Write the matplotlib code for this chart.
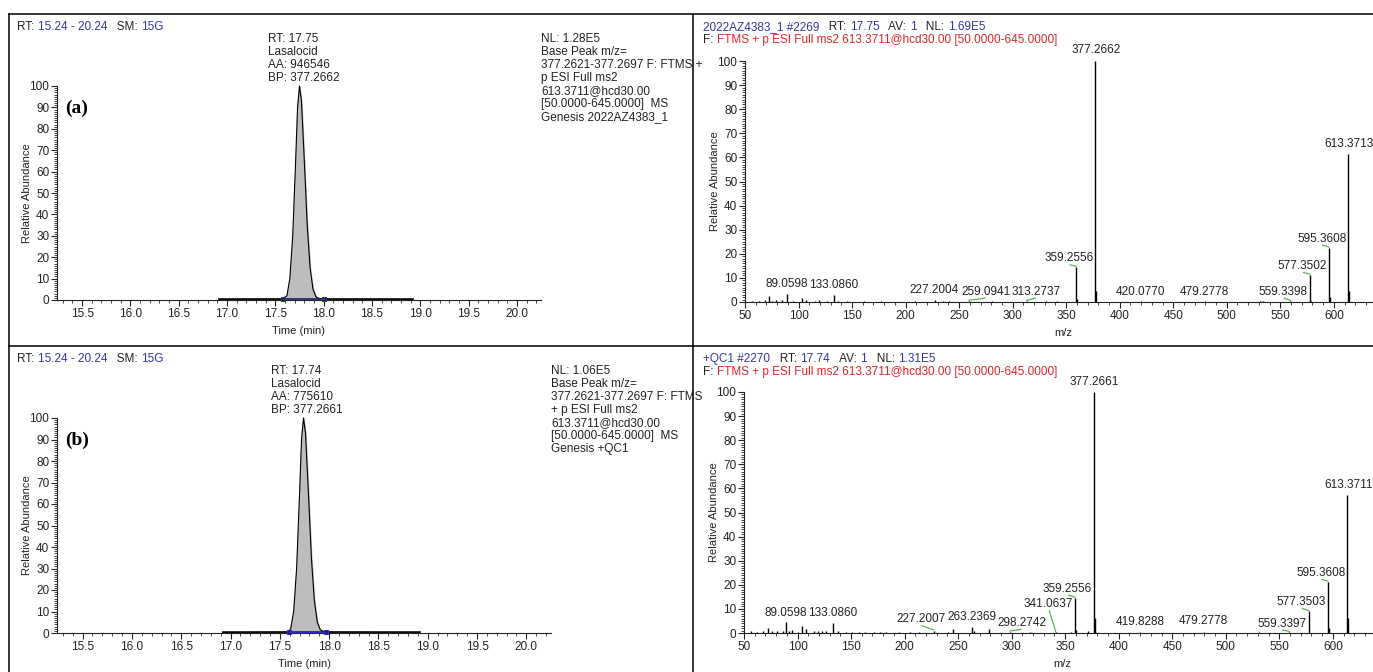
import matplotlib
matplotlib.use("Agg")
import matplotlib.pyplot as plt
from matplotlib.lines import Line2D
from matplotlib.font_manager import FontProperties
from matplotlib.ticker import MultipleLocator

FONT = ["Liberation Sans Narrow", "Liberation Sans", "DejaVu Sans"]
plt.rcParams["font.family"] = FONT

BLUE = "#35359e"
RED = "#e02626"
GREEN = "#58b45a"
INK = "#222222"

# ---- chromatograms (time in min, relative abundance) ----
chrom_a_t = [16.92, 17.57, 17.62, 17.65, 17.68, 17.71, 17.73, 17.75, 17.77, 17.80, 17.83, 17.86, 17.89, 17.92, 17.96, 18.00, 18.92]
chrom_a_i = [0.3, 0.4, 2, 10, 30, 65, 90, 100, 93, 65, 35, 15, 5, 1.5, 0.6, 0.4, 0.3]
chrom_b_t = [16.92, 17.58, 17.61, 17.64, 17.67, 17.70, 17.72, 17.74, 17.76, 17.79, 17.82, 17.85, 17.88, 17.91, 17.95, 17.99, 18.92]
chrom_b_i = [0.3, 0.4, 2, 10, 30, 65, 90, 100, 93, 65, 35, 15, 5, 1.5, 0.6, 0.4, 0.3]
integ_a = (17.58, 18.00)
integ_b = (17.59, 17.97)

# ---- MS2 spectra (m/z, relative abundance) ----
spec_a_mz = [57, 63, 69, 72.0, 75, 79, 85, 89.0598, 95, 103.0, 107, 115, 119, 127, 133.0860, 137, 145,
             161, 177, 209, 227.2004, 235, 241, 259.0941, 281, 313.2737, 331, 341, 359.2556, 360.26,
             377.2662, 378.27, 420.0770, 479.2778, 531, 534, 559.3398, 577.3502, 578.35, 595.3608,
             596.36, 613.3713, 614.37]
spec_a_h = [0.5, 0.5, 0.8, 2.3, 0.6, 1.0, 0.8, 3.2, 0.6, 1.6, 0.8, 0.6, 0.7, 0.6, 2.9, 0.6, 0.5,
            0.4, 0.4, 0.4, 1.0, 0.5, 0.6, 0.4, 0.3, 0.4, 0.3, 0.5, 14.5, 1.2,
            100, 4.4, 0.3, 0.3, 0.4, 0.4, 0.4, 11.3, 0.6, 22.5,
            2.0, 61.5, 4.4]

spec_b_mz = [57, 62, 68, 72, 76, 81, 86, 89.0598, 92, 95, 100, 104, 108, 115, 119, 123, 127, 133.0860,
             138, 145, 151, 157, 163, 171, 177, 183, 195, 205, 213, 227.2007, 241, 245, 263.2369, 265,
             279, 298.2742, 317, 341.0637, 355, 359.2556, 360.26, 371, 377.2661, 378.27, 419.8288,
             479.2778, 531, 559.3397, 577.3503, 595.3608, 596.36, 613.3711, 614.37]
spec_b_h = [0.8, 0.6, 1.0, 2.0, 0.7, 1.0, 0.9, 4.4, 1.0, 1.2, 0.6, 3.0, 1.5, 0.7, 1.0, 0.8, 1.0, 4.1,
            0.8, 0.6, 0.5, 0.6, 0.5, 0.4, 0.4, 0.4, 0.4, 0.4, 0.5, 1.0, 0.6, 1.5, 2.5, 0.8,
            1.8, 0.5, 0.4, 0.4, 0.5, 14.5, 1.3, 0.8, 100, 6.2, 0.3,
            0.4, 0.3, 0.4, 9.0, 21.2, 2.0, 57.4, 6.2]

# peak labels: (label, text x in m/z, text bottom in %)
labels_a = [("89.0598", 89.0, 4.8), ("133.0860", 133.0, 4.6), ("227.2004", 227.0, 2.5),
            ("259.0941", 275.0, 1.8), ("313.2737", 322.2, 1.8), ("359.2556", 352.7, 15.6),
            ("377.2662", 377.9, 102.0), ("420.0770", 419.8, 1.8), ("479.2778", 479.2, 1.8),
            ("559.3398", 552.8, 1.8), ("577.3502", 570.7, 12.4), ("595.3608", 588.6, 23.8),
            ("613.3713", 613.9, 63.0)]
labels_b = [("89.0598", 89.1, 5.8), ("133.0860", 133.0, 5.8), ("227.2007", 215.3, 3.2),
            ("263.2369", 262.5, 4.1), ("298.2742", 309.8, 1.7), ("341.0637", 334.2, 9.4),
            ("359.2556", 352.0, 15.9), ("377.2661", 377.4, 101.7), ("419.8288", 419.7, 2.0),
            ("479.2778", 479.2, 2.5), ("559.3397", 552.4, 1.4), ("577.3503", 570.4, 10.4),
            ("595.3608", 588.7, 22.4), ("613.3711", 614.3, 59.0)]

chrom_headers = [[("RT: ", INK), ("15.24 - 20.24", BLUE), ("   SM: ", INK), ("15G", BLUE)]] * 2
spec_headers = [
    [[("2022AZ4383_1 #2269", BLUE), ("   RT: ", INK), ("17.75", BLUE), ("   AV: ", INK), ("1", BLUE),
      ("   NL: ", INK), ("1.69E5", BLUE)],
     [("F: ", INK), ("FTMS + p ESI Full ms2 613.3711@hcd30.00 [50.0000-645.0000]", RED)]],
    [[("+QC1 #2270", BLUE), ("   RT: ", INK), ("17.74", BLUE), ("   AV: ", INK), ("1", BLUE),
      ("   NL: ", INK), ("1.31E5", BLUE)],
     [("F: ", INK), ("FTMS + p ESI Full ms2 613.3711@hcd30.00 [50.0000-645.0000]", RED)]],
]
peak_notes = ["RT: 17.75\nLasalocid\nAA: 946546\nBP: 377.2662",
              "RT: 17.74\nLasalocid\nAA: 775610\nBP: 377.2661"]
side_notes = ["NL: 1.28E5\nBase Peak m/z=\n377.2621-377.2697 F: FTMS +\np ESI Full ms2\n"
              "613.3711@hcd30.00\n[50.0000-645.0000]  MS\nGenesis 2022AZ4383_1",
              "NL: 1.06E5\nBase Peak m/z=\n377.2621-377.2697 F: FTMS\n+ p ESI Full ms2\n"
              "613.3711@hcd30.00\n[50.0000-645.0000]  MS\nGenesis +QC1"]
tags = ["(a)", "(b)"]

W, H = 1373, 672
fig = plt.figure(figsize=(W / 100, H / 100), dpi=100)


def fx(px):
    return px / W


def fy(py):
    return 1 - py / H


def add_ax(left, right, top, bottom):
    return fig.add_axes([fx(left), fy(bottom), (right - left) / W, (bottom - top) / H])


renderer = fig.canvas.get_renderer()
fp = FontProperties(family=FONT, size=8.5)


def text_w(s):
    # width incl. trailing spaces, in figure fraction
    w1 = renderer.get_text_width_height_descent(s + "|", fp, ismath=False)[0]
    w0 = renderer.get_text_width_height_descent("|", fp, ismath=False)[0]
    return (w1 - w0) / fig.bbox.width


def colored_line(xpx, ypx, parts):
    x = fx(xpx)
    for s, c in parts:
        fig.text(x, fy(ypx), s, color=c, fontproperties=fp, va="center", ha="left")
        x += text_w(s)


def style_axes(ax, w_px, h_px, xlabel):
    for side in ("top", "right"):
        ax.spines[side].set_visible(False)
    for side in ("left", "bottom"):
        ax.spines[side].set_color(INK)
        ax.spines[side].set_linewidth(0.8)
    ax.tick_params(which="major", direction="out", length=4, width=0.8, colors=INK, labelsize=8.5, pad=1.5)
    ax.tick_params(which="minor", direction="out", length=2, width=0.6, colors=INK)
    ax.yaxis.set_major_locator(MultipleLocator(10))
    ax.yaxis.set_minor_locator(MultipleLocator(1))
    ax.set_ylim(0, 100)
    ax.set_ylabel("Relative Abundance", fontsize=8, color=INK)
    ax.yaxis.set_label_coords(-25 / w_px, 0.5)
    ax.set_xlabel(xlabel, fontsize=8, color=INK)
    ax.xaxis.set_label_coords(0.5, -26 / h_px)
    ax.patch.set_alpha(0)


# panel geometry in pixels: (left, right, top, bottom)
chrom_box = [(57, 541, 86, 300), (57, 551, 418, 633)]
spec_box = [(745, 1382, 61, 302), (744, 1381, 392, 633)]
row_top = [0, 332]

chroms = [(chrom_a_t, chrom_a_i, integ_a), (chrom_b_t, chrom_b_i, integ_b)]
specs = [(spec_a_mz, spec_a_h, labels_a), (spec_b_mz, spec_b_h, labels_b)]

for k in range(2):
    # --- chromatogram ---
    l, r, t, b = chrom_box[k]
    ax = add_ax(l, r, t, b)
    style_axes(ax, r - l, b - t, "Time (min)")
    ax.set_xlim(15.24, 20.25)
    ax.xaxis.set_major_locator(MultipleLocator(0.5))
    ax.xaxis.set_minor_locator(MultipleLocator(0.1))
    ax.xaxis.set_major_formatter(matplotlib.ticker.FormatStrFormatter("%.1f"))
    tt, ii, (i0, i1) = chroms[k]
    ax.plot(tt, ii, color="black", lw=0.8, clip_on=False, zorder=3)
    ax.plot([tt[0], tt[-1]], [ii[0], ii[-1]], color="#333333", lw=1.3, zorder=2)
    sel_t = [v for v in tt if i0 <= v <= i1]
    sel_i = [ii[tt.index(v)] for v in sel_t]
    ax.fill_between([i0] + sel_t + [i1], [0.4] + sel_i + [0.4], 0.4, color="#bdbdbd", zorder=1)
    ax.plot([i0, i1], [0.5, 0.5], color="#2a2ad8", lw=1.0, marker="s", ms=3.5, mfc="none",
            mec="#2a2ad8", mew=0.8, zorder=4, clip_on=False)

    dy = row_top[k]
    colored_line(17, 27 + dy, chrom_headers[k])
    apex_x = 268 if k == 0 else 271
    fig.text(fx(apex_x), fy(33 + dy), peak_notes[k], fontproperties=fp, color=INK, va="top", ha="left",
             linespacing=1.12)
    side_x = 541 if k == 0 else 551
    fig.text(fx(side_x), fy(33 + dy), side_notes[k], fontproperties=fp, color=INK, va="top", ha="left",
             linespacing=1.12)
    fig.text(fx(65), fy(108 + dy), tags[k], family="Liberation Serif", weight="bold", fontsize=14,
             color="black", va="center", ha="left")

    # --- spectrum ---
    l, r, t, b = spec_box[k]
    ax = add_ax(l, r, t, b)
    style_axes(ax, r - l, b - t, "m/z")
    ax.set_xlim(50, 645)
    ax.xaxis.set_major_locator(MultipleLocator(50))
    ax.xaxis.set_minor_locator(MultipleLocator(10))
    mz, hh, labs = specs[k]
    ax.vlines(mz, 0, hh, color="black", lw=1.0, clip_on=False)
    for lab, xt, yt in labs:
        ax.text(xt, yt, lab, fontproperties=fp, color=INK, ha="center", va="bottom", clip_on=False)
        pk = float(lab)
        if abs(xt - pk) > 2:
            ph = hh[min(range(len(mz)), key=lambda j: abs(mz[j] - pk))]
            ax.plot([xt + (1 if xt < pk else -1), pk], [yt - 0.2, ph + 0.3], color=GREEN, lw=0.9,
                    clip_on=False)
    sh = spec_headers[k]
    colored_line(703, 27 + dy, sh[0])
    colored_line(703, 40 + dy, sh[1])

# table-like frame lines
frame = [((9, 1373), (14, 14)), ((9, 1373), (346, 346)), ((9, 9), (14, 672)), ((693, 693), (14, 672))]
for xs, ys in frame:
    fig.add_artist(Line2D([fx(xs[0]), fx(xs[1])], [fy(ys[0]), fy(ys[1])], color="black", lw=1.1))

fig.savefig("out.png", dpi=100)
